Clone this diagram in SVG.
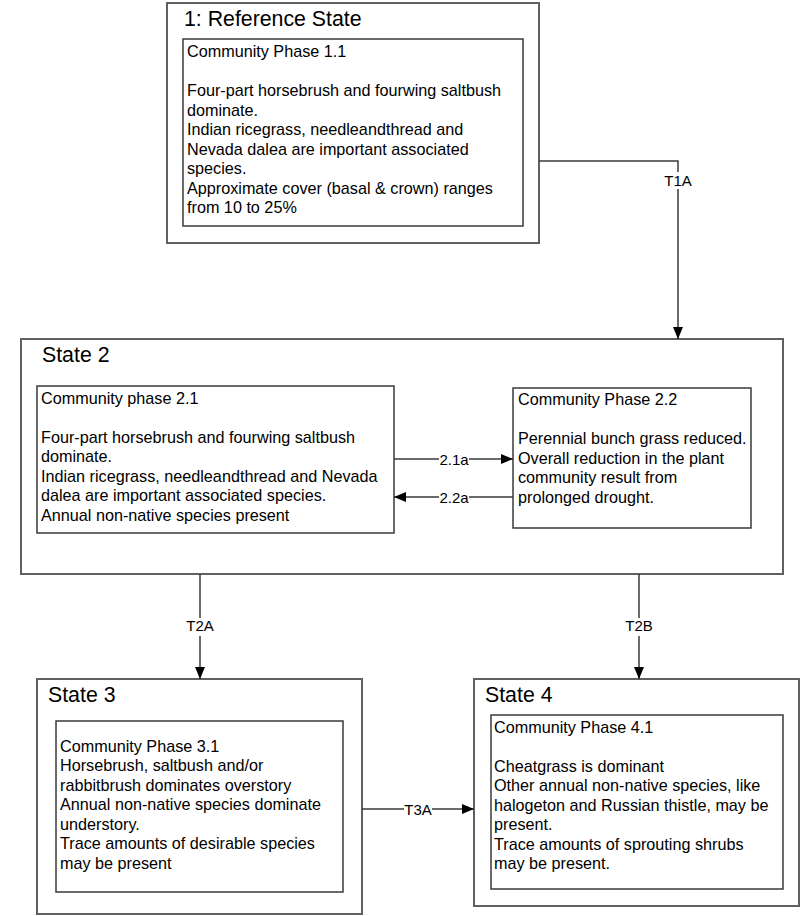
<svg xmlns="http://www.w3.org/2000/svg" width="800" height="916" viewBox="0 0 800 916">
<style>
.outer{fill:#fff;stroke:#606060;stroke-width:2}
.inner{fill:#fff;stroke:#3a3a3a;stroke-width:1.5}
.title{font-family:"Liberation Sans",Arial,sans-serif;font-size:21.3px;fill:#000}
.body{font-family:"Liberation Sans",Arial,sans-serif;font-size:16.2px;fill:#000}
.lbl{font-family:"Liberation Sans",Arial,sans-serif;font-size:15px;fill:#000;text-anchor:middle}
.conn{fill:none;stroke:#3a3a3a;stroke-width:1.5;marker-end:url(#arr)}
.bg{fill:#fff}
</style>
<defs>
<marker id="arr" markerUnits="userSpaceOnUse" markerWidth="12" markerHeight="10" refX="12" refY="5" orient="auto">
<path d="M0,0 L12,5 L0,10 z" fill="#000"/>
</marker>
</defs>
<rect width="800" height="916" fill="#fff"/>

<g id="state1">
<rect class="outer" x="167" y="3" width="372" height="240"/>
<text class="title" x="184" y="25.5">1: Reference State</text>
<g id="phase1_1">
<rect class="inner" x="183" y="39" width="340" height="187"/>
<text class="body" x="187" y="57">Community Phase 1.1</text>
<text class="body" x="187" y="96">Four-part horsebrush and fourwing saltbush</text>
<text class="body" x="187" y="115.5">dominate.</text>
<text class="body" x="187" y="135">Indian ricegrass, needleandthread and</text>
<text class="body" x="187" y="154.5">Nevada dalea are important associated</text>
<text class="body" x="187" y="174">species.</text>
<text class="body" x="187" y="193.5">Approximate cover (basal &amp; crown) ranges</text>
<text class="body" x="187" y="213">from 10 to 25%</text>
</g>
</g>

<g id="state2">
<rect class="outer" x="21" y="339" width="762" height="235"/>
<text class="title" x="42" y="362">State 2</text>
<g id="phase2_1">
<rect class="inner" x="37" y="386" width="357" height="147"/>
<text class="body" x="41" y="403.5">Community phase 2.1</text>
<text class="body" x="41" y="442.5">Four-part horsebrush and fourwing saltbush</text>
<text class="body" x="41" y="462">dominate.</text>
<text class="body" x="41" y="481.5">Indian ricegrass, needleandthread and Nevada</text>
<text class="body" x="41" y="501">dalea are important associated species.</text>
<text class="body" x="41" y="520.5">Annual non-native species present</text>
</g>
<g id="phase2_2">
<rect class="inner" x="513" y="388" width="238" height="140"/>
<text class="body" x="518" y="405">Community Phase 2.2</text>
<text class="body" x="518" y="444">Perennial bunch grass reduced.</text>
<text class="body" x="518" y="463.5">Overall reduction in the plant</text>
<text class="body" x="518" y="483">community result from</text>
<text class="body" x="518" y="502.5">prolonged drought.</text>
</g>
</g>

<g id="state3">
<rect class="outer" x="37" y="679" width="325" height="235"/>
<text class="title" x="48" y="702">State 3</text>
<g id="phase3_1">
<rect class="inner" x="56" y="721" width="287" height="171"/>
<text class="body" x="60" y="751.5">Community Phase 3.1</text>
<text class="body" x="60" y="771">Horsebrush, saltbush and/or</text>
<text class="body" x="60" y="790.5">rabbitbrush dominates overstory</text>
<text class="body" x="60" y="810">Annual non-native species dominate</text>
<text class="body" x="60" y="829.5">understory.</text>
<text class="body" x="60" y="849">Trace amounts of desirable species</text>
<text class="body" x="60" y="868.5">may be present</text>
</g>
</g>

<g id="state4">
<rect class="outer" x="474" y="679" width="325" height="227"/>
<text class="title" x="485" y="702">State 4</text>
<g id="phase4_1">
<rect class="inner" x="491" y="715" width="292" height="174"/>
<text class="body" x="494" y="733">Community Phase 4.1</text>
<text class="body" x="494" y="771.5">Cheatgrass is dominant</text>
<text class="body" x="494" y="791">Other annual non-native species, like</text>
<text class="body" x="494" y="810.5">halogeton and Russian thistle, may be</text>
<text class="body" x="494" y="830">present.</text>
<text class="body" x="494" y="849.5">Trace amounts of sprouting shrubs</text>
<text class="body" x="494" y="869">may be present.</text>
</g>
</g>

<g id="connectors">
<path class="conn" d="M539,161 H678 V339"/>
<rect class="bg" x="662" y="172" width="32" height="17"/>
<text class="lbl" x="678" y="185.5">T1A</text>

<path class="conn" d="M394,459 H513"/>
<rect class="bg" x="439" y="451" width="30" height="16"/>
<text class="lbl" x="454" y="464.5">2.1a</text>

<path class="conn" d="M513,497 H394"/>
<rect class="bg" x="439" y="489" width="30" height="16"/>
<text class="lbl" x="454" y="502.5">2.2a</text>

<path class="conn" d="M200,574 V679"/>
<rect class="bg" x="184" y="618" width="32" height="18"/>
<text class="lbl" x="200" y="631">T2A</text>

<path class="conn" d="M639,574 V679"/>
<rect class="bg" x="623" y="618" width="32" height="18"/>
<text class="lbl" x="639" y="631">T2B</text>

<path class="conn" d="M362,809 H474"/>
<rect class="bg" x="404" y="801" width="28" height="16"/>
<text class="lbl" x="418" y="814.5">T3A</text>
</g>
</svg>
